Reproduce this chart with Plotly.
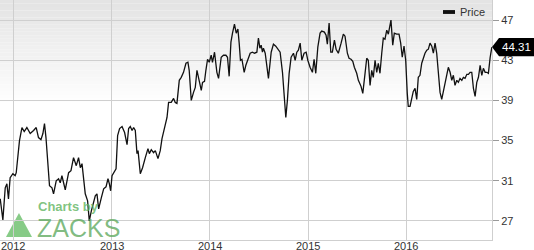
import math
import pandas as pd
import plotly.graph_objects as go

# ---- data (decimal year, closing price) ----
years = [
    2011.868, 2011.895, 2011.919, 2011.936, 2011.952, 2011.969, 2011.997, 2012.020, 2012.031, 2012.044,
    2012.064, 2012.089, 2012.112, 2012.139, 2012.173, 2012.207, 2012.234, 2012.257, 2012.282, 2012.302,
    2012.318, 2012.333, 2012.343, 2012.369, 2012.394, 2012.410, 2012.437, 2012.461, 2012.478, 2012.495,
    2012.512, 2012.529, 2012.563, 2012.587, 2012.613, 2012.641, 2012.664, 2012.682, 2012.699, 2012.732,
    2012.756, 2012.773, 2012.794, 2012.817, 2012.834, 2012.851, 2012.868, 2012.895, 2012.919, 2012.943,
    2012.963, 2012.977, 2012.990, 2013.004, 2013.031, 2013.045, 2013.061, 2013.081, 2013.106, 2013.132,
    2013.157, 2013.173, 2013.190, 2013.208, 2013.224, 2013.241, 2013.258, 2013.269, 2013.292, 2013.315,
    2013.343, 2013.370, 2013.384, 2013.404, 2013.427, 2013.445, 2013.472, 2013.495, 2013.513, 2013.539,
    2013.564, 2013.580, 2013.607, 2013.631, 2013.648, 2013.665, 2013.689, 2013.709, 2013.732, 2013.757,
    2013.777, 2013.790, 2013.811, 2013.834, 2013.852, 2013.869, 2013.892, 2013.913, 2013.926, 2013.946,
    2013.960, 2013.977, 2013.994, 2014.014, 2014.027, 2014.048, 2014.072, 2014.089, 2014.116, 2014.139,
    2014.164, 2014.180, 2014.197, 2014.215, 2014.231, 2014.251, 2014.269, 2014.286, 2014.299, 2014.312,
    2014.327, 2014.350, 2014.367, 2014.388, 2014.411, 2014.434, 2014.455, 2014.479, 2014.495, 2014.510,
    2014.523, 2014.536, 2014.546, 2014.564, 2014.597, 2014.625, 2014.648, 2014.672, 2014.693, 2014.716,
    2014.740, 2014.760, 2014.774, 2014.790, 2014.808, 2014.828, 2014.852, 2014.869, 2014.886, 2014.902,
    2014.920, 2014.937, 2014.960, 2014.981, 2014.998, 2015.021, 2015.045, 2015.062, 2015.079, 2015.100,
    2015.123, 2015.140, 2015.167, 2015.184, 2015.197, 2015.215, 2015.232, 2015.248, 2015.269, 2015.286,
    2015.309, 2015.337, 2015.360, 2015.377, 2015.401, 2015.418, 2015.438, 2015.456, 2015.472, 2015.496,
    2015.513, 2015.540, 2015.558, 2015.581, 2015.598, 2015.614, 2015.632, 2015.649, 2015.665, 2015.683,
    2015.700, 2015.716, 2015.733, 2015.751, 2015.767, 2015.784, 2015.802, 2015.818, 2015.835, 2015.845,
    2015.863, 2015.879, 2015.903, 2015.927, 2015.944, 2015.960, 2015.978, 2015.995, 2016.011, 2016.021,
    2016.039, 2016.056, 2016.072, 2016.090, 2016.107, 2016.123, 2016.140, 2016.158, 2016.174, 2016.191,
    2016.209, 2016.225, 2016.242, 2016.260, 2016.276, 2016.293, 2016.310, 2016.327, 2016.344, 2016.361,
    2016.385, 2016.405, 2016.428, 2016.446, 2016.463, 2016.479, 2016.496, 2016.514, 2016.530, 2016.547,
    2016.565, 2016.581, 2016.598, 2016.616, 2016.632, 2016.649, 2016.666, 2016.683, 2016.700, 2016.717,
    2016.734, 2016.751, 2016.768, 2016.784, 2016.802, 2016.819, 2016.835, 2016.853, 2016.870,
]
prices = [
    29.2, 27.1, 30.3, 30.7, 29.2, 31.3, 31.7, 31.5, 31.8, 33.3,
    35.0, 36.3, 35.9, 36.3, 35.7, 36.0, 36.3, 35.3, 35.1, 35.7,
    36.7, 35.3, 33.7, 30.5, 30.3, 29.7, 31.0, 31.2, 30.8, 31.5,
    30.8, 30.1, 31.8, 32.0, 33.3, 32.5, 33.3, 32.3, 32.7, 29.7,
    29.0, 27.0, 28.0, 29.0, 29.5, 29.7, 28.2, 29.3, 30.2, 30.4,
    31.2, 30.7, 30.0, 31.5, 31.9, 32.2, 35.5, 36.2, 36.4, 35.8,
    34.6, 36.2, 36.4, 36.0, 36.3, 36.0, 33.7, 34.0, 31.7, 32.3,
    33.3, 34.2, 33.7, 34.1, 33.8, 34.0, 33.2, 34.0, 35.2, 36.2,
    37.3, 38.8, 38.8, 39.2, 38.8, 38.7, 41.0, 41.3, 41.8, 42.7,
    42.8, 42.0, 39.0, 39.8, 40.3, 42.0, 40.8, 40.0, 40.8, 40.9,
    42.0, 43.1, 42.8, 43.5, 42.8, 43.8, 41.8, 41.2, 43.3, 43.5,
    43.5, 43.3, 41.4, 44.8, 45.7, 46.6, 45.7, 46.1, 44.7, 43.0,
    43.1, 41.8, 42.5, 43.2, 43.7, 43.8, 43.7, 43.8, 45.2, 44.2,
    44.5, 43.8, 44.2, 43.7, 41.2, 43.8, 44.6, 44.4, 44.1, 43.8,
    41.8, 39.5, 37.3, 39.0, 41.7, 43.3, 43.7, 43.0, 43.8, 44.0,
    44.7, 43.0, 43.7, 43.8, 43.0, 42.3, 41.8, 43.1, 41.7, 44.3,
    45.7, 45.9, 45.8, 45.5, 44.6, 46.7, 43.8, 43.8, 45.0, 44.1,
    43.7, 44.7, 45.6, 45.4, 43.7, 43.2, 43.1, 42.9, 42.3, 41.7,
    41.0, 40.4, 39.7, 41.7, 43.2, 43.0, 40.5, 42.0, 41.3, 43.0,
    41.8, 42.7, 41.7, 43.7, 45.2, 45.1, 46.0, 45.6, 46.4, 47.0,
    44.5, 45.7, 45.6, 45.6, 44.7, 43.3, 44.4, 43.0, 39.7, 38.4,
    38.4, 39.2, 39.9, 40.2, 39.1, 41.3, 41.5, 42.7, 43.3, 43.7,
    44.0, 44.1, 44.7, 44.4, 43.7, 44.7, 43.7, 42.0, 39.8, 39.1,
    40.3, 41.3, 42.3, 41.8, 41.0, 41.5, 40.5, 41.0, 40.8, 41.2,
    41.0, 41.3, 41.2, 41.6, 41.6, 41.8, 41.8, 40.2, 39.4, 40.8,
    41.3, 42.5, 41.5, 42.2, 41.8, 41.8, 41.7, 43.3, 44.31,
]
year_ticks = [2012, 2013, 2014, 2015, 2016]
price_ticks = [27, 31, 35, 39, 43, 47]
x_range = ["2011-11-13", "2016-11-15"]
y_range = [25.1, 49.0]
series_name = "Price"


def dec_to_date(d):
    y = int(math.floor(d))
    start = pd.Timestamp(year=y, month=1, day=1)
    end = pd.Timestamp(year=y + 1, month=1, day=1)
    return start + (end - start) * (d - y)


dates = [dec_to_date(d) for d in years]

GRID = "#cfcfcf"
TXT = "#333333"
FONT = "Liberation Sans, Arial, sans-serif"

fig = go.Figure()
fig.add_trace(go.Scatter(
    x=dates, y=prices, mode="lines", name=series_name,
    line=dict(color="#111111", width=1.3), showlegend=False,
))

shapes = []
# gradient background (top grey fading to white)
n = 30
top_frac = 0.56
for i in range(n):
    y0 = 1 - (i + 1) * (1 - top_frac) / n
    y1 = 1 - i * (1 - top_frac) / n
    g = int(228 + (255 - 228) * (i / (n - 1)))
    shapes.append(dict(type="rect", xref="paper", yref="paper", x0=0, x1=1, y0=y0, y1=y1,
                       fillcolor=f"rgb({g},{g},{g})", line=dict(width=0), layer="below"))

# legend swatch
shapes.append(dict(type="rect", xref="paper", yref="paper", x0=0.9004, x1=0.9248, y0=0.942, y1=0.958,
                   fillcolor="#111111", line=dict(width=0)))

# Zacks triangle logo
shapes.append(dict(type="path", xref="paper", yref="paper",
                   path="M 0.0386 0.1125 L 0.0122 0.0125 L 0.065 0.0125 Z",
                   fillcolor="rgba(95,185,95,0.75)", line=dict(width=0), layer="below"))

# last value flag
v = prices[-1]
h = 0.9
shapes.append(dict(type="path", xref="paper", yref="y",
                   path=f"M 1.0 {v} L 1.0142 {v + h} L 1.0854 {v + h} L 1.0854 {v - h} L 1.0142 {v - h} Z",
                   fillcolor="#000000", line=dict(width=0)))

annotations = [
    dict(text=series_name, xref="paper", yref="paper", x=0.931, y=0.951, xanchor="left", yanchor="middle",
         showarrow=False, font=dict(size=11, color=TXT, family=FONT)),
    dict(text=f"{v:.2f}", xref="paper", yref="y", x=1.05, y=v, xanchor="center", yanchor="middle",
         showarrow=False, font=dict(size=11.5, color="#ffffff", family=FONT)),
    dict(text="Charts by", xref="paper", yref="paper", x=0.073, y=0.138, xanchor="left", yanchor="middle",
         showarrow=False, font=dict(size=13, color="rgba(95,180,95,0.8)", family=FONT, weight="bold")),
    dict(text="ZACKS", xref="paper", yref="paper", x=0.071, y=0.05, xanchor="left", yanchor="middle",
         showarrow=False, font=dict(size=25, color="rgba(95,170,95,0.8)", family=FONT)),
]
# year labels under the plot
for yv in year_ticks:
    annotations.append(dict(text=str(yv), xref="x", yref="paper", x=f"{yv}-01-01", y=-0.026,
                            xanchor="center", yanchor="middle", showarrow=False,
                            font=dict(size=11, color=TXT, family=FONT)))

fig.update_layout(
    width=534, height=250,
    margin=dict(l=0, r=42, t=0, b=10),
    paper_bgcolor="#ffffff", plot_bgcolor="#ffffff",
    shapes=shapes, annotations=annotations,
    xaxis=dict(
        type="date", range=x_range,
        tickvals=[f"{y}-01-01" for y in year_ticks], showticklabels=False,
        showgrid=True, gridcolor=GRID, gridwidth=1,
        showline=True, linecolor=GRID, mirror=True, ticks="",
        zeroline=False, automargin=False,
    ),
    yaxis=dict(
        range=y_range, side="right", tickvals=price_ticks, ticktext=[str(t) for t in price_ticks],
        showgrid=True, gridcolor=GRID, gridwidth=1,
        showline=True, linecolor=GRID, mirror=True,
        ticks="outside", ticklen=6, tickcolor="#999999",
        tickfont=dict(size=11, color=TXT, family=FONT), zeroline=False, automargin=False,
    ),
)

fig.write_html("out.html")
